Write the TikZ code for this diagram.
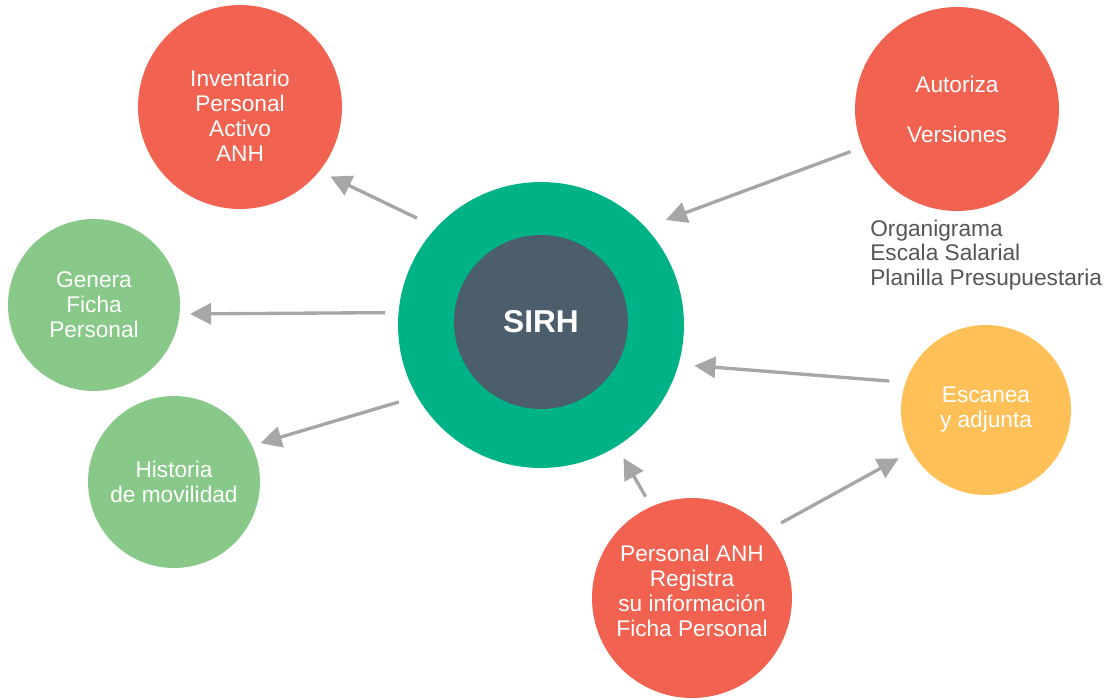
\documentclass[tikz,border=0pt]{standalone}
\usepackage{fontspec}
\setmainfont{Liberation Sans}
\usetikzlibrary{arrows.meta}
\definecolor{sircoral}{RGB}{241, 98, 80}
\definecolor{sirgreen}{RGB}{0, 179, 134}
\definecolor{sirslate}{RGB}{76, 94, 108}
\definecolor{sirleaf}{RGB}{136, 200, 136}
\definecolor{siramber}{RGB}{255, 192, 88}
\definecolor{sirarrow}{RGB}{166, 166, 168}
\definecolor{sirnote}{RGB}{85, 85, 85}

\begin{document}
\begin{tikzpicture}[
    x=0.02cm, y=-0.02cm,
    bubble/.style={circle, inner sep=0pt, outer sep=0pt, text=white,
                   align=center, font=\fontsize{12.9}{14.2}\selectfont},
    bubtext/.style={text=white, align=center, inner sep=0pt,
                    font=\fontsize{12.9}{14.2}\selectfont},
    arr/.style={-{Triangle[length=12pt, width=12pt]}, line width=1.9pt, sirarrow},
    note/.style={text=sirnote, align=left, inner sep=0pt,
                 font=\fontsize{12.9}{13.9}\selectfont}
]
\useasboundingbox (0,0) rectangle (1107,700);

% centre
\node[bubble, fill=sirgreen, minimum size=5.72cm] (sirh) at (541,325) {};
\node[bubble, fill=sirslate, minimum size=3.48cm,
      font=\fontsize{18}{20}\selectfont\bfseries] (core) at (541,322) {SIRH};

% outputs
\node[bubble, fill=sircoral, minimum size=4.08cm] (inv) at (240,107) {};
\node[bubtext] (invtxt) at ([yshift=-0.18cm]inv.center)
     {Inventario\\Personal\\Activo\\ANH};
\node[bubble, fill=sirleaf, minimum size=3.44cm] (ficha) at (94,305)
     {Genera\\Ficha\\Personal};
\node[bubble, fill=sirleaf, minimum size=3.44cm] (hist) at (174,482)
     {Historia\\de movilidad};

% inputs
\node[bubble, fill=sircoral, minimum size=4.08cm] (auto) at (957,109)
     {Autoriza\\[14.2pt]Versiones};
\node[note, anchor=west] (docs) at (870,255)
     {Organigrama\\Escala Salarial\\Planilla Presupuestaria};
\node[bubble, fill=siramber, minimum size=3.4cm] (scan) at (986,410)
     {Escanea\\y adjunta};
\node[bubble, fill=sircoral, minimum size=4cm] (pers) at (692,598) {};
\node[bubtext] (perstxt) at ([yshift=0.14cm]pers.center)
     {Personal ANH\\Registra\\su información\\Ficha Personal};

\draw[arr, shorten <=0.433cm, shorten >=0.246cm] (sirh.137.5) -- (inv.-39.3);
\draw[arr, shorten <=0.268cm, shorten >=0.21cm]  (sirh.175.6) -- (ficha.-6);
\draw[arr, shorten <=0.381cm, shorten >=0.179cm] (sirh.210.1) -- (hist.25.8);
\draw[arr, shorten <=0.256cm, shorten >=0.435cm] (auto.202.8) -- (sirh.43);
\draw[arr, shorten <=0.327cm, shorten >=0.32cm]  (scan.161.7) -- (sirh.-16.6);
\draw[arr, shorten <=0.23cm, shorten >=0.271cm]  (pers.114.2) -- (sirh.-58.8);
\draw[arr, shorten <=0.336cm, shorten >=0.297cm] (pers.42.1)  -- (scan.209.5);
\end{tikzpicture}
\end{document}
